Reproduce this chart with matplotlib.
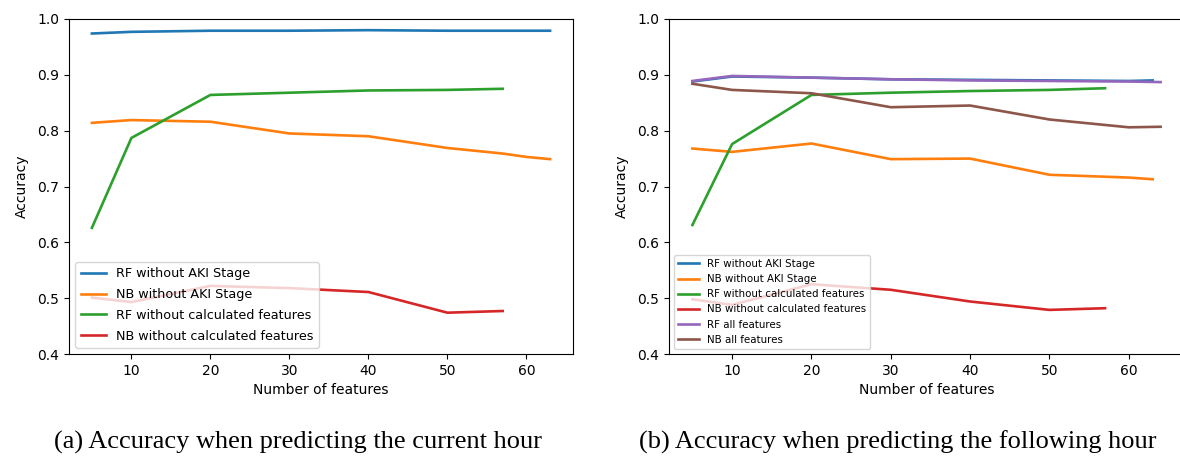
import matplotlib.pyplot as plt

# (a) current hour
xa_rf = [5, 10, 20, 30, 40, 50, 57, 60, 63]
rf_no_aki_a = [0.974, 0.977, 0.979, 0.979, 0.980, 0.979, 0.979, 0.979, 0.979]
xa_nb = [5, 10, 20, 30, 40, 50, 57, 60, 63]
nb_no_aki_a = [0.814, 0.819, 0.816, 0.795, 0.790, 0.769, 0.759, 0.753, 0.749]
xa_calc = [5, 10, 20, 30, 40, 50, 57]
rf_no_calc_a = [0.626, 0.787, 0.864, 0.868, 0.872, 0.873, 0.875]
nb_no_calc_a = [0.501, 0.493, 0.522, 0.518, 0.511, 0.474, 0.477]

# (b) following hour
xb_aki = [5, 10, 20, 30, 40, 50, 60, 63]
rf_no_aki_b = [0.888, 0.897, 0.895, 0.892, 0.891, 0.890, 0.889, 0.890]
nb_no_aki_b = [0.768, 0.762, 0.777, 0.749, 0.750, 0.721, 0.716, 0.713]
xb_calc = [5, 10, 20, 30, 40, 50, 57]
rf_no_calc_b = [0.631, 0.776, 0.864, 0.868, 0.871, 0.873, 0.876]
nb_no_calc_b = [0.498, 0.488, 0.525, 0.515, 0.494, 0.479, 0.482]
xb_all = [5, 10, 20, 30, 40, 50, 60, 64]
rf_all_b = [0.889, 0.898, 0.895, 0.892, 0.890, 0.889, 0.888, 0.887]
nb_all_b = [0.884, 0.873, 0.867, 0.842, 0.845, 0.820, 0.806, 0.807]

plt.rcParams['lines.linewidth'] = 1.9

fig = plt.figure(figsize=(11.8, 4.59), dpi=100)
W, H = 1180, 459

ax1 = fig.add_axes([69 / W, 1 - 354 / H, (573 - 69) / W, (354 - 19) / H])
ax1.plot(xa_rf, rf_no_aki_a, label='RF without AKI Stage')
ax1.plot(xa_nb, nb_no_aki_a, label='NB without AKI Stage')
ax1.plot(xa_calc, rf_no_calc_a, label='RF without calculated features')
ax1.plot(xa_calc, nb_no_calc_a, label='NB without calculated features')
ax1.legend(loc='lower left', fontsize=9.2, labelspacing=0.6)

ax2 = fig.add_axes([669 / W, 1 - 354 / H, (1184 - 669) / W, (354 - 19) / H])
ax2.plot(xb_aki, rf_no_aki_b, label='RF without AKI Stage')
ax2.plot(xb_aki, nb_no_aki_b, label='NB without AKI Stage')
ax2.plot(xb_calc, rf_no_calc_b, label='RF without calculated features')
ax2.plot(xb_calc, nb_no_calc_b, label='NB without calculated features')
ax2.plot(xb_all, rf_all_b, label='RF all features')
ax2.plot(xb_all, nb_all_b, label='NB all features')
ax2.legend(loc='lower left', fontsize=7.4, labelspacing=0.5)

for ax in (ax1, ax2):
    ax.set_ylim(0.4, 1.0)
    ax.set_xlabel('Number of features', fontsize=10)
    ax.set_ylabel('Accuracy', fontsize=10, labelpad=6)
    ax.tick_params(labelsize=10)

fig.text(298 / W, 1 - 442 / H, '(a) Accuracy when predicting the current hour',
         ha='center', va='center', fontsize=19, family='Liberation Serif')
fig.text(898 / W, 1 - 442 / H, '(b) Accuracy when predicting the following hour',
         ha='center', va='center', fontsize=19, family='Liberation Serif')

fig.savefig('out.png', dpi=100)
